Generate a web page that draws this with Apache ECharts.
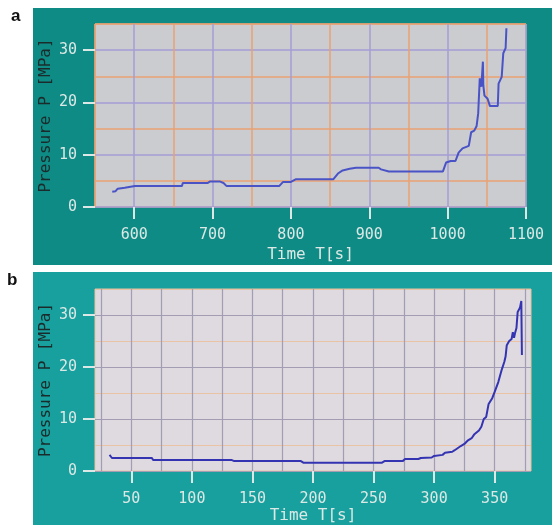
<!DOCTYPE html>
<html>
<head>
<meta charset="utf-8">
<script src="https://cdn.jsdelivr.net/npm/echarts@6/dist/echarts.min.js"></script>
<style>
html,body{margin:0;padding:0;background:#fff;}
#chart{width:552px;height:525px;}
</style>
</head>
<body>
<div id="chart"></div>
<script>
// Panel a data: time [s], pressure [MPa]
var timeA = [572,576,579,588,601,661,662,694,697,709,714,718,785,790,800,806,854,860,866,875,883,912,915,925,994,998,1004,1010,1014,1019,1027,1030,1034,1037,1039,1041,1043,1045,1045.5,1047,1051,1054,1064,1065,1069,1071,1074,1075];
var pressA = [2.9,3.0,3.5,3.7,4.0,4.0,4.6,4.6,4.9,4.9,4.6,4.0,4.0,4.8,4.8,5.3,5.3,6.4,7.0,7.3,7.5,7.5,7.2,6.8,6.8,8.5,8.8,8.8,10.4,11.2,11.7,14.3,14.6,15.5,17.9,24.6,23.0,27.8,23.3,21.3,20.7,19.3,19.3,23.6,24.9,29.4,30.4,34.2];
// Panel b data
var timeB = [32,34,67,68,133,135,190,192,257,259,274,276,287,289,298,300,307,309,315,317,322,325,328,331,333,337,339,341,343,345,348,350,353,355,356,358,359,360,362,364,365,366,367,368,369,370,371,372,372.5];
var pressB = [3.1,2.5,2.5,2.1,2.1,1.9,1.9,1.6,1.6,1.9,1.9,2.3,2.3,2.5,2.6,2.9,3.1,3.5,3.7,4.0,4.8,5.2,5.9,6.3,7.0,7.8,8.5,10.0,10.4,12.9,14.0,15.2,17.1,18.8,19.6,21.0,22.0,24.2,25.0,25.4,26.7,25.6,26.7,27.5,30.6,31.0,31.5,32.7,22.3];
// Ticks
var xTicksA = [600,700,800,900,1000,1100];
var xTicksB = [50,100,150,200,250,300,350];
var yTicks = [0,10,20,30];
var vGridB = [25,50,75,100,125,150,175,200,225,250,275,300,325,350,375];

function zip(a,b){return a.map(function(v,i){return [v,b[i]];});}

var font = 'DejaVu Sans Mono';
var lightText = '#dbe8e6';
var orange = '#eaa172', purple = '#a49ed6';
var orangeB = '#e9c3a4', purpleB = '#a39db4';

function visX(grid, min, max, ticks, titleGap){
  return {type:'value', gridIndex:grid, min:min, max:max, position:'bottom',
    name:'Time T[s]', nameLocation:'middle', nameGap:titleGap, nameMoveOverlap:false,
    nameTextStyle:{color:lightText, fontFamily:font, fontSize:16},
    axisLine:{show:false},
    axisTick:{show:true, customValues:ticks, length:12, lineStyle:{color:lightText, width:2}},
    axisLabel:{customValues:ticks, color:lightText, fontFamily:font, fontSize:15, margin:21,
      formatter:function(v){return String(v);}},
    splitLine:{show:false}};
}
function visY(grid){
  return {type:'value', gridIndex:grid, min:0, max:35, position:'left',
    name:'Pressure P [MPa]', nameLocation:'middle', nameGap:41, nameMoveOverlap:false,
    nameTextStyle:{color:'#1b2b2b', fontFamily:font, fontSize:16},
    axisLine:{show:false},
    axisTick:{show:true, customValues:yTicks, length:12, lineStyle:{color:lightText, width:2}},
    axisLabel:{customValues:yTicks, color:lightText, fontFamily:font, fontSize:15, margin:18,
      formatter:function(v){return String(v);}},
    splitLine:{show:false}};
}

var option = {
  animation:false,
  backgroundColor:'#ffffff',
  graphic:[
    {type:'rect', z:-10, shape:{x:33,y:8,width:519,height:257}, style:{fill:'#0f8b85'}},
    {type:'rect', z:-10, shape:{x:33,y:272,width:519,height:253}, style:{fill:'#17a09d'}},
    {type:'text', left:11, top:8, style:{text:'a', font:'bold 17px "Liberation Sans", Arial', fill:'#111'}},
    {type:'text', left:7, top:272, style:{text:'b', font:'bold 17px "Liberation Sans", Arial', fill:'#111'}}
  ],
  grid:[
    {left:95, top:24, width:431, height:183, show:true, backgroundColor:'#caccd0', borderColor:orange, borderWidth:1},
    {left:95, top:289, width:436, height:182, show:true, backgroundColor:'#dedadf', borderColor:orangeB, borderWidth:1}
  ],
  xAxis:[
    visX(0, 550, 1100, xTicksA, 40),
    {type:'value', gridIndex:0, min:550, max:1100, interval:50, position:'bottom', axisLine:{show:false}, axisTick:{show:false}, axisLabel:{show:false},
      splitLine:{show:true, lineStyle:{color:[orange, purple], width:1.5}}},
    visX(1, 20, 380, xTicksB, 37)
  ],
  yAxis:[
    visY(0),
    {type:'value', gridIndex:0, min:0, max:35, interval:5, position:'left', axisLine:{show:false}, axisTick:{show:false}, axisLabel:{show:false},
      splitLine:{show:true, lineStyle:{color:[purple, orange], width:1.5}}},
    visY(1),
    {type:'value', gridIndex:1, min:0, max:35, interval:5, position:'left', axisLine:{show:false}, axisTick:{show:false}, axisLabel:{show:false},
      splitLine:{show:true, lineStyle:{color:[purpleB, orangeB], width:1.2}}}
  ],
  series:[
    {type:'line', xAxisIndex:0, yAxisIndex:0, data:zip(timeA, pressA), showSymbol:false, symbol:'none',
      lineStyle:{color:'#4a53c6', width:2}, z:5},
    {type:'line', xAxisIndex:2, yAxisIndex:2, data:zip(timeB, pressB), showSymbol:false, symbol:'none',
      lineStyle:{color:'#3434b2', width:2}, z:5,
      markLine:{silent:true, symbol:'none', label:{show:false}, animation:false,
        lineStyle:{color:purpleB, width:1.2, type:'solid'},
        data:vGridB.map(function(v){return {xAxis:v};})}}
  ]
};
var chart = echarts.init(document.getElementById('chart'), null, {renderer:'canvas'});
chart.setOption(option);
</script>
</body>
</html>
